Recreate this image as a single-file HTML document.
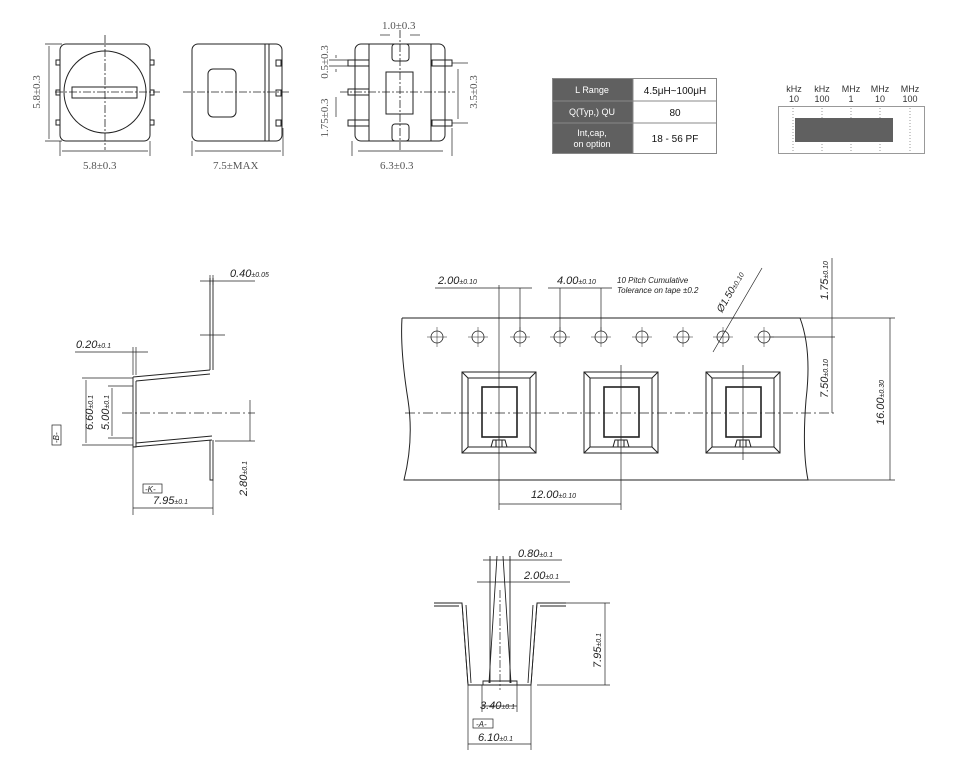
<!DOCTYPE html>
<html><head><meta charset="utf-8"><style>
body{margin:0;background:#fff}
svg{display:block}
.s{font-family:"Liberation Serif",serif;font-size:11px;fill:#555}
.i{font-family:"Liberation Sans",sans-serif;font-style:italic;font-size:11px;fill:#222}
.t{font-family:"Liberation Sans",sans-serif;font-size:9px}
</style></head><body>
<svg width="960" height="783" viewBox="0 0 960 783" xmlns="http://www.w3.org/2000/svg">
<g fill="none" stroke="#222" stroke-width="1">
<!-- view 1 -->
<rect x="60" y="44" width="90" height="97" rx="6"/>
<circle cx="105" cy="92" r="41"/>
<rect x="72" y="87" width="65" height="11"/>
<rect x="56" y="60" width="4" height="5"/><rect x="56" y="90" width="4" height="5"/><rect x="56" y="120" width="4" height="5"/>
<rect x="150" y="60" width="4" height="5"/><rect x="150" y="90" width="4" height="5"/><rect x="150" y="120" width="4" height="5"/>
<g stroke-dasharray="8 2 2 2" stroke-width="0.8"><line x1="105" y1="35" x2="105" y2="150"/><line x1="55" y1="92" x2="160" y2="92"/></g>
<g stroke-width="0.7"><line x1="45" y1="44" x2="62" y2="44"/><line x1="45" y1="141" x2="62" y2="141"/><line x1="49" y1="46" x2="49" y2="139"/>
<line x1="60" y1="141" x2="60" y2="156"/><line x1="150" y1="141" x2="150" y2="156"/><line x1="62" y1="151" x2="148" y2="151"/></g>
<!-- view 2 -->
<rect x="192" y="44" width="90" height="97" rx="6"/>
<line x1="265" y1="44" x2="265" y2="141"/><line x1="269" y1="44" x2="269" y2="141"/>
<rect x="208" y="69" width="28" height="48" rx="5"/>
<rect x="276" y="60" width="5" height="6"/><rect x="276" y="90" width="5" height="6"/><rect x="276" y="120" width="5" height="6"/>
<line x1="183" y1="92" x2="290" y2="92" stroke-dasharray="8 2 2 2" stroke-width="0.8"/>
<g stroke-width="0.7"><line x1="192" y1="141" x2="192" y2="156"/><line x1="283" y1="128" x2="283" y2="156"/><line x1="195" y1="151" x2="281" y2="151"/></g>
<!-- view 3 -->
<rect x="355" y="44" width="90" height="97" rx="6"/>
<line x1="369" y1="44" x2="369" y2="141"/><line x1="431" y1="44" x2="431" y2="141"/>
<rect x="392" y="44" width="17" height="17" rx="3" fill="#fff"/><rect x="392" y="124" width="17" height="17" rx="3" fill="#fff"/>
<rect x="386" y="72" width="27" height="42"/>
<rect x="348" y="60" width="21" height="6"/><rect x="348" y="89" width="21" height="6"/><rect x="348" y="120" width="21" height="6"/>
<rect x="432" y="60" width="20" height="6"/><rect x="432" y="120" width="20" height="6"/>
<g stroke-dasharray="8 2 2 2" stroke-width="0.8"><line x1="400" y1="30" x2="400" y2="150"/><line x1="340" y1="92" x2="455" y2="92"/></g>
<g stroke-width="0.7"><line x1="452" y1="63" x2="468" y2="63"/><line x1="452" y1="123" x2="468" y2="123"/><line x1="458" y1="69" x2="458" y2="119"/>
<line x1="336" y1="55" x2="336" y2="58"/><line x1="336" y1="69" x2="336" y2="72"/><line x1="336" y1="97" x2="336" y2="117"/>
<line x1="329" y1="60" x2="348" y2="60"/><line x1="329" y1="66" x2="348" y2="66"/>
<line x1="380" y1="35" x2="390" y2="35"/><line x1="410" y1="35" x2="420" y2="35"/>
<line x1="352" y1="141" x2="352" y2="156"/><line x1="452" y1="128" x2="452" y2="156"/><line x1="358" y1="151" x2="443" y2="151"/></g>
</g>
<text class="s" x="83" y="169">5.8±0.3</text>
<text class="s" x="213" y="169">7.5±MAX</text>
<text class="s" x="380" y="169">6.3±0.3</text>
<text class="s" x="382" y="29">1.0±0.3</text>
<text class="s" transform="translate(40,92) rotate(-90)" text-anchor="middle">5.8±0.3</text>
<text class="s" transform="translate(328,62) rotate(-90)" text-anchor="middle">0.5±0.3</text>
<text class="s" transform="translate(328,118) rotate(-90)" text-anchor="middle">1.75±0.3</text>
<text class="s" transform="translate(477,92) rotate(-90)" text-anchor="middle">3.5±0.3</text>
<!-- table -->
<rect x="552" y="78" width="81" height="76" fill="#606060"/>
<rect x="552.5" y="78.5" width="164" height="75" fill="none" stroke="#888"/>
<line x1="633" y1="78" x2="633" y2="154" stroke="#888"/>
<line x1="552" y1="101" x2="717" y2="101" stroke="#888"/><line x1="552" y1="123" x2="717" y2="123" stroke="#888"/>
<g class="t" fill="#fff" text-anchor="middle"><text x="592" y="93">L Range</text><text x="592" y="115">Q(Typ,) QU</text><text x="592" y="136">Int,cap,</text><text x="592" y="147">on option</text></g>
<g font-family="Liberation Sans,sans-serif" font-size="10" fill="#111" text-anchor="middle"><text x="675" y="94">4.5μH~100μH</text><text x="675" y="116">80</text><text x="675" y="142">18 - 56 PF</text></g>
<!-- chart -->
<rect x="778.5" y="106.5" width="146" height="47" fill="none" stroke="#999"/>
<g stroke="#999" stroke-dasharray="1 2"><line x1="793" y1="108" x2="793" y2="153"/><line x1="822" y1="108" x2="822" y2="153"/><line x1="851" y1="108" x2="851" y2="153"/><line x1="880" y1="108" x2="880" y2="153"/><line x1="910" y1="108" x2="910" y2="153"/></g>
<rect x="795" y="118" width="98" height="24" fill="#606060"/>
<g class="t" fill="#333" text-anchor="middle"><text x="794" y="92">kHz</text><text x="822" y="92">kHz</text><text x="851" y="92">MHz</text><text x="880" y="92">MHz</text><text x="910" y="92">MHz</text>
<text x="794" y="102">10</text><text x="822" y="102">100</text><text x="851" y="102">1</text><text x="880" y="102">10</text><text x="910" y="102">100</text></g>
<!-- tape -->
<g fill="none" stroke="#222" stroke-width="1">
<path d="M402 318 L800 318 Q812 350 806 400 Q802 450 808 480 L404 480 Q414 440 408 400 Q400 350 402 318"/>
<g stroke-width="0.8">
<circle cx="437" cy="337" r="6"/><circle cx="478" cy="337" r="6"/><circle cx="520" cy="337" r="6"/><circle cx="560" cy="337" r="6"/><circle cx="601" cy="337" r="6"/><circle cx="642" cy="337" r="6"/><circle cx="683" cy="337" r="6"/><circle cx="723" cy="337" r="6"/><circle cx="764" cy="337" r="6"/>
</g>
<g stroke-width="0.5"><path d="M427 337h20M468 337h20M510 337h20M550 337h20M591 337h20M632 337h20M673 337h20M713 337h20M754 337h20M437 327v20M478 327v20M520 327v20M560 327v20M601 327v20M642 327v20M683 327v20M723 327v20M764 327v20"/></g>
<g id="p">
<rect x="462" y="372" width="74" height="81"/><rect x="468" y="378" width="62" height="69"/>
<path d="M462 372l6 6M536 372l-6 6M462 453l6-6M536 453l-6-6"/>
<rect x="482" y="387" width="35" height="50" stroke-width="1.6"/>
<path d="M491 447 l2-7 h12 l2 7"/><path d="M496 440v7M502 440v7"/>
</g>
<use href="#p" x="122"/><use href="#p" x="244"/>
<g stroke-width="0.8" stroke-dasharray="10 3 2 3"><line x1="405" y1="413" x2="835" y2="413"/></g>
<g stroke-width="0.7">
<line x1="499" y1="285" x2="499" y2="510"/><line x1="621" y1="365" x2="621" y2="510"/><line x1="743" y1="365" x2="743" y2="460"/>
<line x1="499" y1="504" x2="621" y2="504"/>
<line x1="435" y1="288" x2="532" y2="288"/><line x1="520" y1="288" x2="520" y2="331"/>
<line x1="548" y1="288" x2="612" y2="288"/><line x1="560" y1="288" x2="560" y2="331"/><line x1="601" y1="288" x2="601" y2="331"/>
<line x1="713" y1="352" x2="762" y2="268"/>
<line x1="800" y1="318" x2="895" y2="318"/><line x1="770" y1="337" x2="835" y2="337"/><line x1="808" y1="480" x2="895" y2="480"/>
<line x1="832" y1="258" x2="832" y2="413"/><line x1="890" y1="318" x2="890" y2="480"/>
</g>
</g>
<g class="i">
<text x="438" y="284">2.00<tspan font-size="7">±0.10</tspan></text>
<text x="557" y="284">4.00<tspan font-size="7">±0.10</tspan></text>
<text x="617" y="283" font-size="8">10 Pitch Cumulative</text>
<text x="617" y="293" font-size="8">Tolerance on tape ±0.2</text>
<text x="531" y="498">12.00<tspan font-size="7">±0.10</tspan></text>
<text transform="translate(722,313) rotate(-60)" font-size="10">Ø1.50<tspan font-size="7">±0.10</tspan></text>
<text transform="translate(828,300) rotate(-90)">1.75<tspan font-size="7">±0.10</tspan></text>
<text transform="translate(828,398) rotate(-90)">7.50<tspan font-size="7">±0.10</tspan></text>
<text transform="translate(884,425) rotate(-90)">16.00<tspan font-size="7">±0.30</tspan></text>
</g>
<!-- left section -->
<g fill="none" stroke="#222" stroke-width="0.9">
<path d="M210 278v92M213 278v92"/><path d="M210 440v40h3v-40"/>
<path d="M133 377 L210 370 M136 381 L210 374"/>
<path d="M133 377v70h3v-66"/>
<path d="M133 447 L212 440 M136 443 L212 436"/>
<path d="M200 335h25" stroke-width="0.7"/>
<g stroke-width="0.7">
<line x1="122" y1="413" x2="255" y2="413" stroke-dasharray="10 3 2 3"/>
<line x1="82" y1="378" x2="133" y2="378"/><line x1="82" y1="445" x2="133" y2="445"/><line x1="86" y1="380" x2="86" y2="443"/>
<line x1="108" y1="386" x2="133" y2="386"/><line x1="108" y1="438" x2="133" y2="438"/><line x1="112" y1="388" x2="112" y2="436"/>
<line x1="215" y1="441" x2="255" y2="441"/><line x1="250" y1="400" x2="250" y2="441"/>
<line x1="133" y1="447" x2="133" y2="515"/><line x1="213" y1="480" x2="213" y2="515"/><line x1="133" y1="508" x2="213" y2="508"/>
<line x1="75" y1="352" x2="148" y2="352"/><line x1="133" y1="347" x2="133" y2="375"/><line x1="136" y1="347" x2="136" y2="375"/>
<line x1="200" y1="281" x2="255" y2="281"/><line x1="210" y1="275" x2="210" y2="285"/><line x1="213" y1="275" x2="213" y2="285"/>
<rect x="52" y="425" width="9" height="20"/><rect x="143" y="484" width="19" height="9"/>
</g></g>
<g class="i">
<text x="230" y="277">0.40<tspan font-size="7">±0.05</tspan></text>
<text x="76" y="348">0.20<tspan font-size="7">±0.1</tspan></text>
<text transform="translate(93,430) rotate(-90)">6.60<tspan font-size="7">±0.1</tspan></text>
<text transform="translate(109,430) rotate(-90)">5.00<tspan font-size="7">±0.1</tspan></text>
<text transform="translate(247,496) rotate(-90)">2.80<tspan font-size="7">±0.1</tspan></text>
<text x="153" y="504">7.95<tspan font-size="7">±0.1</tspan></text>
<text x="145" y="492" font-size="8">-K-</text>
<text transform="translate(59,443) rotate(-90)" font-size="8">-B-</text>
</g>
<!-- bottom view -->
<g fill="none" stroke="#222" stroke-width="0.9">
<path d="M434 603h28l6 82h63l6-82h29"/><path d="M434 606h25M540 606h26"/>
<path d="M462 603 l6 82M466 605 l5 78M537 603 l-6 82M533 605 l-5 78"/>
<path d="M483 685v-4h34v4"/>
<path d="M490 556 V683 M510 556 V683"/>
<path d="M497 556 L489 683 M503 556 L511 683"/>
<g stroke-width="0.7">
<line x1="500" y1="590" x2="500" y2="690" stroke-dasharray="8 2 2 2"/>
<line x1="483" y1="560" x2="562" y2="560"/><line x1="477" y1="582" x2="570" y2="582"/>
<line x1="566" y1="603" x2="610" y2="603"/><line x1="537" y1="685" x2="610" y2="685"/><line x1="605" y1="603" x2="605" y2="685"/>
<line x1="482" y1="685" x2="482" y2="712"/><line x1="517" y1="685" x2="517" y2="712"/><line x1="482" y1="706" x2="517" y2="706"/>
<line x1="468" y1="685" x2="468" y2="750"/><line x1="531" y1="685" x2="531" y2="750"/><line x1="468" y1="744" x2="531" y2="744"/>
<rect x="473" y="719" width="20" height="9"/>
</g></g>
<g class="i">
<text x="518" y="557">0.80<tspan font-size="7">±0.1</tspan></text>
<text x="524" y="579">2.00<tspan font-size="7">±0.1</tspan></text>
<text transform="translate(601,668) rotate(-90)">7.95<tspan font-size="7">±0.1</tspan></text>
<text x="480" y="709">3.40<tspan font-size="7">±0.1</tspan></text>
<text x="476" y="727" font-size="8">-A-</text>
<text x="478" y="741">6.10<tspan font-size="7">±0.1</tspan></text>
</g>
</svg>
</body></html>
